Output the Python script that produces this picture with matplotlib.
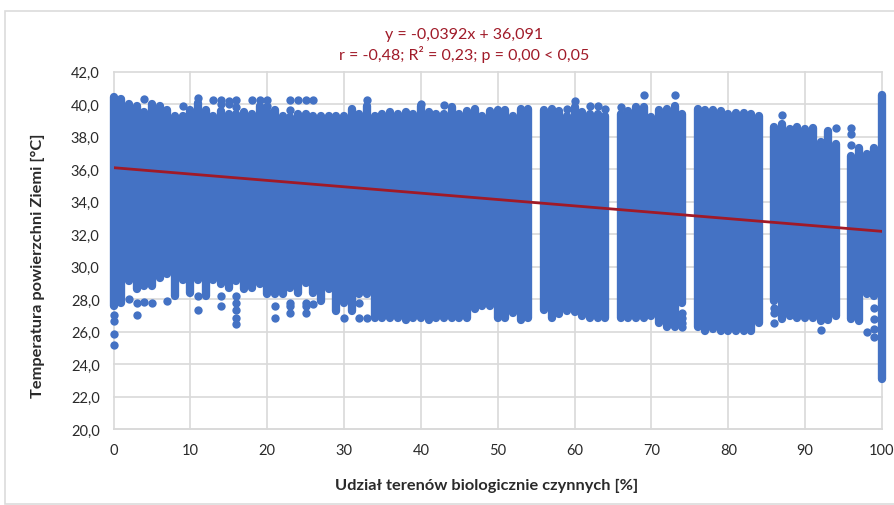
import matplotlib
matplotlib.use("Agg")
import matplotlib.pyplot as plt
from matplotlib.patches import Rectangle

plt.rcParams['font.family'] = ['Lato', 'DejaVu Sans']

title_lines = "y = -0,0392x + 36,091\nr = -0,48; R² = 0,23; p = 0,00 < 0,05"
x_label = "Udział terenów biologicznie czynnych [%]"
y_label = "Temperatura powierzchni Ziemi [°C]"
x_ticks = [0, 10, 20, 30, 40, 50, 60, 70, 80, 90, 100]
y_ticks = [20, 22, 24, 26, 28, 30, 32, 34, 36, 38, 40, 42]
y_tick_labels = ["20,0", "22,0", "24,0", "26,0", "28,0", "30,0", "32,0", "34,0", "36,0", "38,0", "40,0", "42,0"]

# Columns of points: share of biologically active land
shares = list(range(0, 55)) + list(range(56, 65)) + list(range(66, 75)) + list(range(76, 85)) + list(range(86, 95)) + list(range(96, 101))

# Upper edge of each dense column
column_high = [
    40.47, 40.3, 40.0, 39.9, 39.5, 40.0, 39.9, 39.65, 39.3, 39.3,
    39.65, 40.1, 39.65, 39.3, 39.6, 39.4, 39.4, 39.5, 39.4, 39.9,
    39.6, 39.65, 39.3, 39.2, 39.4, 39.4, 39.3, 39.3, 39.3, 39.3,
    39.3, 39.7, 39.4, 39.9, 39.3, 39.4, 39.5, 39.4, 39.5, 39.4,
    39.9, 39.5, 39.4, 39.4, 39.8, 39.4, 39.6, 39.7, 39.3, 39.6,
    39.65, 39.65, 39.3, 39.7, 39.7,
    39.65, 39.7, 39.55, 39.3, 39.8, 39.5, 39.4, 39.4, 39.3,
    39.4, 39.6, 39.8, 39.8, 39.2, 39.65, 39.7, 39.9, 39.4,
    39.7, 39.65, 39.65, 39.55, 39.4, 39.43, 39.43, 39.4, 39.3,
    38.57, 38.77, 38.46, 38.6, 38.46, 38.52, 37.65, 38.36, 37.54,
    36.82, 37.3, 36.93, 37.3, 40.55,
]

# Lower edge of each dense column
column_low = [
    27.57, 27.77, 29.1, 28.6, 28.8, 28.8, 29.3, 29.52, 28.2, 29.2,
    28.4, 29.2, 28.2, 29.2, 28.9, 28.7, 29.1, 28.6, 28.7, 28.9,
    28.3, 28.3, 28.3, 28.7, 28.4, 29.0, 28.4, 27.88, 28.6, 27.26,
    27.77, 27.26, 28.3, 28.3, 26.85, 26.85, 26.85, 26.85, 26.7, 26.85,
    26.85, 26.7, 26.85, 26.85, 26.85, 26.85, 26.85, 27.36, 27.57, 27.57,
    26.85, 26.85, 27.16, 26.7, 26.85,
    27.32, 26.85, 27.1, 27.26, 27.2, 26.95, 26.85, 26.85, 26.85,
    26.85, 26.85, 26.85, 26.85, 26.95, 26.5, 26.3, 26.3, 27.77,
    26.3, 26.05, 26.15, 26.05, 26.05, 26.05, 26.05, 26.05, 26.5,
    27.88, 26.8, 26.95, 26.85, 26.85, 26.85, 26.65, 26.7, 26.95,
    26.79, 26.65, 28.3, 28.2, 23.1,
]

# Isolated points outside the dense columns
stray_x = [
    4, 9, 11, 13, 14, 14, 15, 15, 16, 16, 18, 19, 20, 20, 23, 23, 24, 25, 26, 33,
    40, 43, 59, 60, 62, 63, 64, 66, 69, 73, 87, 94, 96, 96, 96,
    0, 0, 0, 0, 2, 3, 3, 4, 5, 7, 11, 11, 14, 14, 16, 16, 16, 16, 16,
    21, 21, 23, 23, 23, 25, 25, 25, 26, 30, 32, 32, 33,
    74, 74, 74, 74, 86, 86, 86, 92, 98, 99, 99, 99, 99,
]
stray_y = [
    40.3, 39.9, 40.35, 40.27, 40.27, 40.0, 40.2, 40.0, 40.27, 39.8, 40.27, 40.27, 40.27, 39.9, 40.27, 39.65, 40.27, 40.27, 40.27, 40.27,
    40.0, 39.95, 39.73, 40.2, 39.9, 39.9, 39.7, 39.8, 40.55, 40.55, 39.34, 38.52, 38.52, 38.15, 37.48,
    27.0, 26.65, 25.83, 25.17, 28.0, 27.77, 27.0, 27.8, 27.77, 27.88, 28.2, 27.32, 28.2, 27.6, 28.2, 27.77, 27.35, 26.85, 26.44,
    27.57, 26.82, 27.77, 27.57, 27.16, 27.77, 27.57, 27.16, 27.67, 26.85, 27.77, 26.85, 26.85,
    27.16, 26.85, 26.54, 26.3, 27.47, 27.16, 26.5, 26.1, 26.0, 27.47, 26.8, 26.14, 25.68,
]

# Regression line end points
trend_x = [0, 100]
trend_y = [36.09, 32.17]

W, H = 894, 506
BLUE = "#4472C4"
RED = "#A01A28"
GRID = "#D9D9D9"
TEXT = "#2A2A2A"

fig = plt.figure(figsize=(W / 100, H / 100), dpi=100, facecolor="white")
fig.add_artist(Rectangle((5 / W, 1 - 505 / H), 892 / W, 493 / H, transform=fig.transFigure,
                         facecolor="white", edgecolor="#DCDCDC", linewidth=1.2, zorder=-1))

ax = fig.add_axes([113.5 / W, 1 - 430 / H, 768.5 / W, 357.3 / H])
ax.set_facecolor("none")
ax.set_xlim(0, 100)
ax.set_ylim(20, 42)
ax.set_xticks(x_ticks)
ax.set_yticks(y_ticks)
ax.set_yticklabels(y_tick_labels)
ax.grid(True, color=GRID, linewidth=1.2, zorder=0, clip_on=False)
ax.set_axisbelow(True)
for side in ("top", "left", "right"):
    ax.spines[side].set_visible(False)
ax.spines["bottom"].set_color(GRID)
ax.spines["bottom"].set_linewidth(1.2)
ax.tick_params(length=0, labelsize=10.5, labelcolor=TEXT)
ax.tick_params(axis="y", pad=10)
ax.tick_params(axis="x", pad=10)

DIAM = 6.0
for x, lo, hi in zip(shares, column_low, column_high):
    ax.plot([x, x], [lo, hi], color=BLUE, linewidth=DIAM, solid_capstyle="round",
            clip_on=False, zorder=2)
ax.scatter(stray_x, stray_y, s=DIAM ** 2, color=BLUE, linewidths=0, clip_on=False, zorder=2)
ax.plot(trend_x, trend_y, color=RED, linewidth=2.0, zorder=3)

fig.text(464 / W, 1 - 45.5 / H, title_lines, color=RED, fontsize=11.5, ha="center", va="center",
         linespacing=1.3)
fig.text(487 / W, 1 - 486 / H, x_label, color=TEXT, fontsize=11.8, fontweight="bold",
         ha="center", va="center")
fig.text(38 / W, 1 - 266 / H, y_label, color=TEXT, fontsize=11.8, fontweight="bold",
         rotation=90, ha="center", va="center")

fig.savefig("out.png", dpi=100, facecolor="white")
